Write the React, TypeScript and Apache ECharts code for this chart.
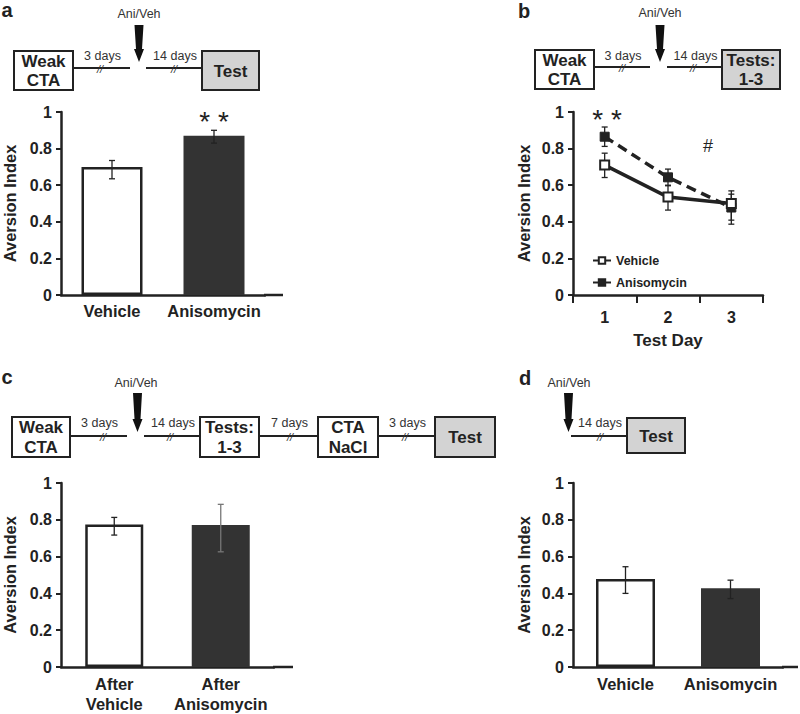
import React, { useEffect, useRef } from 'react';
import * as echarts from 'echarts';

const FONT = '"Liberation Sans", Arial, Helvetica, sans-serif';
const INK = '#222222';
const DARK_BAR = '#333333';
const BOX_GRAY = '#d3d3d3';

// ---- Panel a ----
const catsA = ['Vehicle', 'Anisomycin'];
const valsA = [0.70, 0.87];
const lowA = [0.635, 0.83];
const highA = [0.735, 0.90];

// ---- Panel b ----
const daysB = ['1', '2', '3'];
const seriesNamesB = ['Vehicle', 'Anisomycin'];
const vehB = [0.71, 0.535, 0.50];
const vehLowB = [0.642, 0.464, 0.387];
const vehHighB = [0.775, 0.60, 0.569];
const aniB = [0.865, 0.643, 0.478];
const aniLowB = [0.812, 0.597, 0.409];
const aniHighB = [0.918, 0.688, 0.551];

// ---- Panel c ----
const catsC = ['After\nVehicle', 'After\nAnisomycin'];
const valsC = [0.775, 0.772];
const lowC = [0.717, 0.626];
const highC = [0.813, 0.884];

// ---- Panel d ----
const catsD = ['Vehicle', 'Anisomycin'];
const valsD = [0.478, 0.428];
const lowD = [0.40, 0.372];
const highD = [0.545, 0.472];

const yMin = 0;
const yMax = 1;
const yStep = 0.2;
const yName = 'Aversion Index';
const xNameB = 'Test Day';

function yAxis(gridIndex: number, nameGap: number) {
  return {
    type: 'value', gridIndex, min: yMin, max: yMax, interval: yStep,
    name: yName, nameLocation: 'middle', nameRotate: 90, nameGap,
    nameTextStyle: { fontFamily: FONT, fontWeight: 'bold', fontSize: 16.5, color: INK },
    axisLine: { show: true, lineStyle: { color: INK, width: 2.5 } },
    axisTick: { show: true, length: 5, lineStyle: { color: INK, width: 2 } },
    axisLabel: { fontFamily: FONT, fontWeight: 'bold', fontSize: 16, color: INK, margin: 9 },
    splitLine: { show: false },
  };
}

function barXAxis(gridIndex: number, data: string[], margin: number) {
  return {
    type: 'category', gridIndex, data,
    axisLine: { show: true, lineStyle: { color: INK, width: 2.5 } },
    axisTick: { show: false },
    axisLabel: {
      interval: 0, fontFamily: FONT, fontWeight: 'bold', fontSize: 16.5, color: INK, margin, lineHeight: 20,
    },
  };
}

const barStyles = [
  { color: '#ffffff', borderColor: INK, borderWidth: 2.5 },
  { color: DARK_BAR, borderColor: DARK_BAR, borderWidth: 0 },
];

function barSeries(idx: number, vals: number[], width: number) {
  return {
    type: 'bar', xAxisIndex: idx, yAxisIndex: idx, barWidth: width, z: 2,
    data: vals.map((v, i) => ({ value: v, itemStyle: barStyles[i] })),
    silent: true,
  };
}

function errSeries(idx: number, lows: number[], highs: number[], colors: string[], cap: number) {
  return {
    type: 'custom', xAxisIndex: idx, yAxisIndex: idx, z: 6, silent: true,
    data: lows.map((l, i) => [i, l, highs[i]]),
    renderItem: (params: any, api: any) => {
      const i = api.value(0);
      const top = api.coord([i, api.value(2)]);
      const bot = api.coord([i, api.value(1)]);
      const st = { stroke: colors[params.dataIndex], lineWidth: 1.3 };
      return {
        type: 'group',
        children: [
          { type: 'line', shape: { x1: top[0], y1: top[1], x2: bot[0], y2: bot[1] }, style: st },
          { type: 'line', shape: { x1: top[0] - cap, y1: top[1], x2: top[0] + cap, y2: top[1] }, style: st },
          { type: 'line', shape: { x1: bot[0] - cap, y1: bot[1], x2: bot[0] + cap, y2: bot[1] }, style: st },
        ],
      };
    },
  };
}

function txt(x: number, y: number, text: string, size: number, bold: boolean, extra: any = {}) {
  return {
    type: 'text', x, y, silent: true, z: 10,
    style: {
      text, fill: INK, fontFamily: FONT, fontSize: size,
      fontWeight: bold ? 'bold' : 'normal', align: 'center', verticalAlign: 'middle', ...extra,
    },
  };
}

function box(x1: number, x2: number, y1: number, y2: number, text: string, gray: boolean, lh = 19) {
  return [
    { type: 'rect', z: 9, shape: { x: x1, y: y1, width: x2 - x1, height: y2 - y1 },
      style: { fill: gray ? BOX_GRAY : '#ffffff', stroke: INK, lineWidth: 2 } },
    txt((x1 + x2) / 2, (y1 + y2) / 2 + 0.5, text, 17, true, { lineHeight: lh }),
  ];
}

function link(x1: number, x2: number, y: number, label: string, labelY: number, slashX?: number) {
  const sx = slashX !== undefined ? slashX : (x1 + x2) / 2;
  const out: any[] = [
    { type: 'line', z: 9, shape: { x1, y1: y, x2, y2: y }, style: { stroke: INK, lineWidth: 2 } },
    txt(sx, y + 1, '//', 11, false, { fill: '#333', fontStyle: 'italic' }),
  ];
  if (label) out.push(txt((x1 + x2) / 2 + 1, labelY, label, 12.5, false, { fill: '#333' }));
  return out;
}

function arrow(cx: number, top: number, tip: number) {
  return {
    type: 'polygon', z: 9,
    shape: {
      points: [
        [cx - 4.5, top], [cx + 4.5, top], [cx + 3, tip - 13], [cx + 5, tip - 13],
        [cx, tip], [cx - 5, tip - 13], [cx - 3, tip - 13],
      ],
    },
    style: { fill: '#111' },
  };
}

function axisExt(x1: number, x2: number, y: number) {
  return { type: 'line', z: 9, shape: { x1, y1: y, x2, y2: y }, style: { stroke: INK, lineWidth: 2.5 } };
}

export default function App() {
  const ref = useRef<HTMLDivElement>(null);

  useEffect(() => {
    if (!ref.current) return;
    const chart = echarts.init(ref.current, undefined, { renderer: 'svg' });

    const graphics: any[] = [
      // panel letters
      txt(7, 10, 'a', 20, true),
      txt(524, 11, 'b', 20, true),
      txt(7, 377, 'c', 20, true),
      txt(525, 378, 'd', 20, true),

      // Timeline a
      ...box(14, 73, 51, 90, 'Weak\nCTA', false),
      ...link(73, 130, 68, '3 days', 56, 100),
      txt(139, 14, 'Ani/Veh', 12.5, false, { fill: '#333' }),
      arrow(139, 25, 62),
      ...link(146, 202, 68, '14 days', 56, 174),
      ...box(202, 259, 51, 90, 'Test', true),

      // Timeline b
      ...box(535, 594, 50, 89, 'Weak\nCTA', false),
      ...link(594, 650, 67, '3 days', 56, 622),
      txt(660, 13, 'Ani/Veh', 12.5, false, { fill: '#333' }),
      arrow(660, 25, 62),
      ...link(667, 722, 67, '14 days', 56, 693),
      ...box(722, 780, 50, 89, 'Tests:\n1-3', true),

      // Timeline c
      ...box(12, 70, 417, 457, 'Weak\nCTA', false, 20),
      ...link(70, 127, 436, '3 days', 423, 103),
      txt(136, 383, 'Ani/Veh', 12.5, false, { fill: '#333' }),
      arrow(137.5, 393, 432),
      ...link(144, 200, 436, '14 days', 423, 170),
      ...box(200, 259, 417, 457, 'Tests:\n1-3', false, 20),
      ...link(259, 318, 436, '7 days', 423, 290),
      ...box(318, 378, 417, 457, 'CTA\nNaCl', false, 20),
      ...link(378, 435, 436, '3 days', 423, 405),
      ...box(435, 495, 417, 457, 'Test', true),

      // Timeline d
      txt(569, 383, 'Ani/Veh', 12.5, false, { fill: '#333' }),
      arrow(568.5, 393, 432),
      ...link(571, 627, 436, '14 days', 423, 600),
      ...box(627, 685, 418, 453, 'Test', true),

      // significance marks
      txt(214, 121, '* *', 28, false),
      txt(607, 119, '* *', 28, false),
      txt(708, 146, '#', 18, false),

      // x axis line extensions beyond the category bands
      axisExt(264, 283, 295),
      axisExt(273, 293, 667),
      axisExt(782, 798, 667),
    ];

    const option: any = {
      animation: false,
      backgroundColor: '#ffffff',
      grid: [
        { left: 61, top: 112, width: 204, height: 183 },
        { left: 573, top: 112, width: 190, height: 183 },
        { left: 61, top: 483, width: 213, height: 184 },
        { left: 573, top: 483, width: 210, height: 184 },
      ],
      xAxis: [
        barXAxis(0, catsA, 6),
        {
          type: 'category', gridIndex: 1, data: daysB, boundaryGap: true,
          name: xNameB, nameLocation: 'middle', nameGap: 37,
          nameTextStyle: { fontFamily: FONT, fontWeight: 'bold', fontSize: 17, color: INK },
          axisLine: { show: true, lineStyle: { color: INK, width: 2.5 } },
          axisTick: { show: true, length: 8, alignWithLabel: false, lineStyle: { color: INK, width: 2 } },
          axisLabel: { interval: 0, fontFamily: FONT, fontWeight: 'bold', fontSize: 16, color: INK, margin: 14 },
        },
        barXAxis(2, catsC, 7),
        barXAxis(3, catsD, 7),
      ],
      yAxis: [yAxis(0, 43), yAxis(1, 41), yAxis(2, 43), yAxis(3, 41)],
      legend: {
        data: seriesNamesB, orient: 'vertical', left: 587, top: 249,
        itemWidth: 18, itemHeight: 8, itemGap: 9, selectedMode: false,
        lineStyle: { type: 'solid' },
        textStyle: { fontFamily: FONT, fontWeight: 'bold', fontSize: 12.5, color: INK },
      },
      series: [
        barSeries(0, valsA, 61),
        errSeries(0, lowA, highA, [INK, INK], 3),
        errSeries(1, aniLowB, aniHighB, [INK, INK, INK], 3),
        errSeries(1, vehLowB, vehHighB, [INK, INK, INK], 3),
        {
          name: seriesNamesB[1], type: 'line', xAxisIndex: 1, yAxisIndex: 1, data: aniB,
          symbol: 'rect', symbolSize: 9, z: 7,
          lineStyle: { color: INK, width: 3.5, type: [10, 6] },
          itemStyle: { color: INK, borderColor: INK, borderWidth: 1 },
        },
        {
          name: seriesNamesB[0], type: 'line', xAxisIndex: 1, yAxisIndex: 1, data: vehB,
          symbol: 'rect', symbolSize: 9, z: 8,
          lineStyle: { color: INK, width: 3.5 },
          itemStyle: { color: '#ffffff', borderColor: INK, borderWidth: 2 },
        },
        barSeries(2, valsC, 58),
        errSeries(2, lowC, highC, [INK, '#777777'], 3),
        barSeries(3, valsD, 59),
        errSeries(3, lowD, highD, [INK, INK], 3),
      ],
      graphic: graphics,
    };

    chart.setOption(option);
    return () => chart.dispose();
  }, []);

  return (
    <div
      ref={ref}
      style={{ position: 'absolute', left: 0, top: 0, width: 800, height: 714, background: '#fff' }}
    />
  );
}
